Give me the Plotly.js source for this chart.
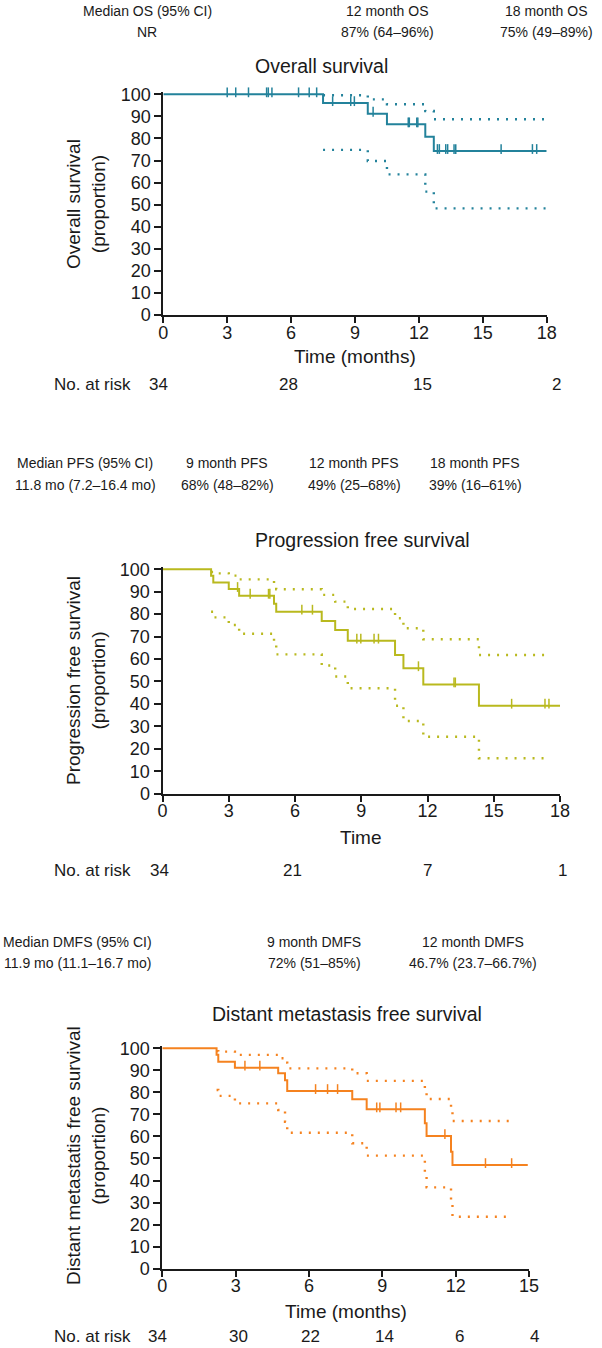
<!DOCTYPE html>
<html><head><meta charset="utf-8">
<script src="https://cdn.plot.ly/plotly-3.0.1.min.js"></script>
<style>html,body{margin:0;padding:0;background:#fff;}#chart{width:602px;height:1348px;}</style>
</head><body><div id="chart"></div>
<script>
// ---------- Overall survival ----------
const osEventTimes = [7.5, 9.6, 10.5, 12.3, 12.7];
const osSurvival   = [96.0, 91.2, 86.4, 80.8, 74.3];
const osUpper      = [99.6, 97.7, 95.5, 92.4, 88.7];
const osLower      = [74.8, 69.8, 63.7, 55.9, 48.3];
const osCensor     = [3.0, 3.4, 4.0, 4.85, 4.93, 5.1, 6.35, 6.85, 7.2, 7.95, 8.8, 8.97, 9.85,
                      11.5, 11.55, 11.9, 11.95, 12.87, 12.96, 13.26, 13.35, 13.65, 13.73, 15.86, 17.33, 17.53];
const osEnd = 18, osCiEnd = 18;
const osRiskTimes = [0, 6, 12, 18];
const osRisk = ['34', '28', '15', '2'];
const osTicks = [0, 3, 6, 9, 12, 15, 18];
const osHeader = [['Median OS (95% CI)', 'NR'], ['12 month OS', '87% (64–96%)'], ['18 month OS', '75% (49–89%)']];

// ---------- Progression free survival ----------
const pfsEventTimes = [2.2, 2.3, 3.0, 3.47, 5.05, 5.15, 7.21, 7.82, 8.39, 10.53, 10.91, 11.81, 14.33];
const pfsSurvival   = [97.1, 94.1, 91.2, 88.2, 84.6, 81.1, 77.0, 73.0, 68.2, 61.8, 55.9, 48.7, 39.2];
const pfsUpper      = [98.8, 98.2, 97.2, 95.5, 93.3, 91.1, 88.6, 85.6, 82.3, 78.2, 73.7, 68.8, 61.8];
const pfsLower      = [81.1, 78.6, 75.2, 71.3, 66.7, 62.1, 57.1, 52.2, 47.0, 39.2, 32.4, 25.4, 15.8];
const pfsCensor     = [3.4, 3.97, 4.8, 4.86, 6.31, 6.79, 8.8, 8.98, 9.58, 9.78, 11.59, 13.2, 13.26, 15.81, 17.32, 17.5];
const pfsEnd = 18, pfsCiEnd = 17.55;
const pfsRiskTimes = [0, 6, 12, 18];
const pfsRisk = ['34', '21', '7', '1'];
const pfsTicks = [0, 3, 6, 9, 12, 15, 18];
const pfsHeader = [['Median PFS (95% CI)', '11.8 mo (7.2–16.4 mo)'], ['9 month PFS', '68% (48–82%)'],
                   ['12 month PFS', '49% (25–68%)'], ['18 month PFS', '39% (16–61%)']];

// ---------- Distant metastasis free survival ----------
const dmfsEventTimes = [2.22, 2.29, 2.97, 4.74, 5.02, 5.11, 7.77, 8.36, 10.74, 10.81, 11.81, 11.87];
const dmfsSurvival   = [97.1, 93.9, 91.2, 88.7, 85.5, 80.6, 76.9, 72.3, 66.0, 60.2, 53.1, 47.0];
const dmfsUpper      = [98.7, 98.5, 97.0, 95.5, 93.5, 90.9, 88.7, 85.2, 81.1, 77.0, 72.5, 67.0];
const dmfsLower      = [81.1, 78.4, 75.0, 72.0, 66.7, 61.7, 56.9, 51.3, 43.6, 36.9, 30.0, 23.6];
const dmfsCensor     = [3.38, 3.99, 6.27, 6.76, 7.17, 8.77, 8.9, 9.56, 9.75, 11.56, 13.22, 14.29];
const dmfsEnd = 14.95, dmfsCiEnd = 14.29;
const dmfsRiskTimes = [0, 3, 6, 9, 12, 15];
const dmfsRisk = ['34', '30', '22', '14', '6', '4'];
const dmfsTicks = [0, 3, 6, 9, 12, 15];
const dmfsHeader = [['Median DMFS (95% CI)', '11.9 mo (11.1–16.7 mo)'], ['9 month DMFS', '72% (51–85%)'],
                    ['12 month DMFS', '46.7% (23.7–66.7%)']];

const yTicks = [0, 10, 20, 30, 40, 50, 60, 70, 80, 90, 100];

// ---------- styling / layout (pixels) ----------
const W = 602, H = 1348;
const FONT = 'Liberation Sans, Arial, Helvetica, sans-serif';
const INK = '#1a1a1a';
const YTOP = 101; // small headroom so the 100% line is not clipped
const panels = [
  { name: 'os', color: '#23829b', xr: [0, 18], px: [163.3, 546.7], py: [94.3, 315],
    ev: osEventTimes, s: osSurvival, up: osUpper, lo: osLower, cen: osCensor, end: osEnd, ciEnd: osCiEnd,
    ticks: osTicks, riskT: osRiskTimes, risk: osRisk, riskShift: [-5, -3, 4, 10], riskY: 384,
    header: osHeader, headerX: [147, 387, 546], headerY: [11, 32],
    title: 'Overall survival', titleX: 322, titleY: 66,
    ytitle: 'Overall survival<br>(proportion)', ytitleY: 204,
    xtitle: 'Time (months)', xtitleY: 356 },
  { name: 'pfs', color: '#b9b91e', xr: [0, 18], px: [162.5, 560], py: [569.3, 793.7],
    ev: pfsEventTimes, s: pfsSurvival, up: pfsUpper, lo: pfsLower, cen: pfsCensor, end: pfsEnd, ciEnd: pfsCiEnd,
    ticks: pfsTicks, riskT: pfsRiskTimes, risk: pfsRisk, riskShift: [-3, -3, 0, 2], riskY: 870,
    header: pfsHeader, headerX: [85, 227, 354, 475], headerY: [463, 485],
    title: 'Progression free survival', titleX: 362, titleY: 540,
    ytitle: 'Progression free survival<br>(proportion)', ytitleY: 681,
    xtitle: 'Time', xtitleY: 837 },
  { name: 'dmfs', color: '#f5821f', xr: [0, 15], px: [162.3, 529], py: [1048.3, 1268.7],
    ev: dmfsEventTimes, s: dmfsSurvival, up: dmfsUpper, lo: dmfsLower, cen: dmfsCensor, end: dmfsEnd, ciEnd: dmfsCiEnd,
    ticks: dmfsTicks, riskT: dmfsRiskTimes, risk: dmfsRisk, riskShift: [-5, 3, 2, 2, 4, 5], riskY: 1336,
    header: dmfsHeader, headerX: [77, 314, 473], headerY: [942, 963],
    title: 'Distant metastasis free survival', titleX: 347, titleY: 1014,
    ytitle: 'Distant metastatis free survival<br>(proportion)', ytitleY: 1156,
    xtitle: 'Time (months)', xtitleY: 1311 }
];

function stepAt(times, vals, t) {
  let v = 100;
  for (let i = 0; i < times.length; i++) if (times[i] <= t) v = vals[i];
  return v;
}

const traces = [];
const annotations = [];
const layout = {
  width: W, height: H, margin: { l: 0, r: 0, t: 0, b: 0 },
  paper_bgcolor: '#fff', plot_bgcolor: '#fff', showlegend: false,
  font: { family: FONT, color: INK }
};

function ann(text, x, y, size, extra) {
  annotations.push(Object.assign({
    text: text, xref: 'paper', yref: 'paper', x: x / W, y: 1 - y / H,
    xanchor: 'center', yanchor: 'middle', showarrow: false,
    font: { family: FONT, size: size, color: INK }
  }, extra || {}));
}

panels.forEach((p, i) => {
  const n = i === 0 ? '' : String(i + 1);
  const xa = 'x' + n, ya = 'y' + n;
  const last = p.s[p.s.length - 1];
  const dash = '2px,7px';
  const ciLine = { shape: 'hv', color: p.color, width: 2.4, dash: dash };
  // confidence limits start at the first event (no vertical drop from 100%)
  traces.push({ x: p.ev.concat([p.ciEnd]), y: p.up.concat([p.up[p.up.length - 1]]),
    xaxis: xa, yaxis: ya, mode: 'lines', line: ciLine, hoverinfo: 'skip' });
  traces.push({ x: p.ev.concat([p.ciEnd]), y: p.lo.concat([p.lo[p.lo.length - 1]]),
    xaxis: xa, yaxis: ya, mode: 'lines', line: ciLine, hoverinfo: 'skip' });
  traces.push({ x: [0].concat(p.ev, [p.end]), y: [100].concat(p.s, [last]),
    xaxis: xa, yaxis: ya, mode: 'lines', line: { shape: 'hv', color: p.color, width: 2 },
    hoverinfo: 'skip' });
  traces.push({ x: p.cen, y: p.cen.map(t => stepAt(p.ev, p.s, t) + 0.9),
    xaxis: xa, yaxis: ya, mode: 'markers',
    marker: { symbol: 'line-ns', size: 7, color: p.color, line: { color: p.color, width: 1.5 } },
    hoverinfo: 'skip', cliponaxis: false });

  const axBase = { showline: true, linecolor: INK, linewidth: 2, ticks: 'outside',
    tickwidth: 2, tickcolor: INK, showgrid: false, zeroline: false, fixedrange: true,
    tickfont: { family: FONT, size: 18, color: INK } };
  const unit = (p.py[1] - p.py[0]) / 100;
  layout['xaxis' + n] = Object.assign({}, axBase, {
    domain: [p.px[0] / W, p.px[1] / W], anchor: ya, range: p.xr, ticklen: 6, ticklabelstandoff: -6,
    tickmode: 'array', tickvals: p.ticks, ticktext: p.ticks.map(String) });
  layout['yaxis' + n] = Object.assign({}, axBase, {
    domain: [1 - p.py[1] / H, 1 - (p.py[0] - unit * (YTOP - 100)) / H], anchor: xa, range: [0, YTOP],
    ticklen: 7, tickmode: 'array', tickvals: yTicks, ticktext: yTicks.map(String) });

  p.header.forEach((h, k) => {
    ann(h[0], p.headerX[k], p.headerY[0], 14);
    ann(h[1], p.headerX[k], p.headerY[1], 14);
  });
  ann(p.title, p.titleX, p.titleY, 19.5);
  ann(p.ytitle, 86, p.ytitleY, 19, { textangle: -90 });
  ann(p.xtitle, (p.px[0] + p.px[1]) / 2, p.xtitleY, 19);
  ann('No. at risk', 92, p.riskY, 17);
  p.riskT.forEach((t, k) => {
    annotations.push({ text: p.risk[k], xref: xa, yref: 'paper', x: t, y: 1 - p.riskY / H,
      xanchor: 'center', yanchor: 'middle', showarrow: false, xshift: p.riskShift[k],
      font: { family: FONT, size: 17, color: INK } });
  });
});

layout.annotations = annotations;
Plotly.newPlot('chart', traces, layout, { displayModeBar: false, staticPlot: true });
</script></body></html>
